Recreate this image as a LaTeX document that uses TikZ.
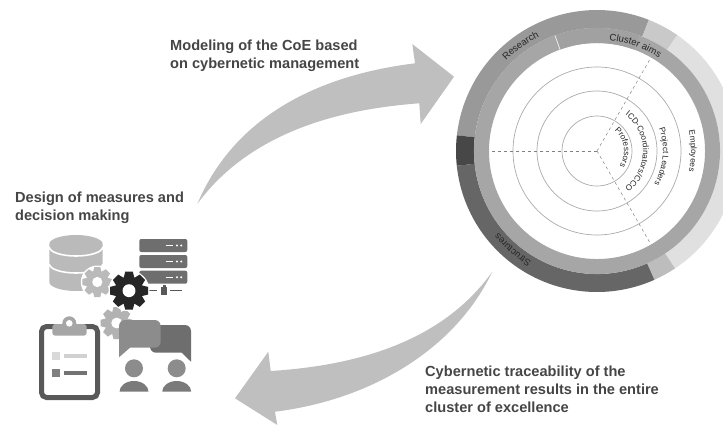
\documentclass[tikz,border=0pt]{standalone}
\usepackage{fontspec}
\setmainfont{Liberation Sans}
\usetikzlibrary{decorations.text}

\newcommand{\ringfont}{\fontsize{8.2}{10}\selectfont\color{black!85}}
\newcommand{\rimfont}{\fontsize{9.6}{11}\selectfont\color{black!85}}
\newcommand{\ringpart}[5]{\fill[#5] (#1:#3) arc (#1:#2:#3) -- (#2:#4) arc (#2:#1:#4) -- cycle;}
\newcommand{\gearicon}[4]{
	\fill[white] (#1,-#2) circle ({#3+1.5});
	\foreach \a in {0,45,...,315}
		\fill[#4, shift={(#1,-#2)}, rotate=\a] ({-.3*#3},{.6*#3}) -- ({-.2*#3},#3) -- ({.2*#3},#3) -- ({.3*#3},{.6*#3}) -- cycle;
	\fill[#4] (#1,-#2) circle ({.74*#3});
	\fill[white] (#1,-#2) circle ({.34*#3});
}

\definecolor{arrowgrey}{gray}{.75}
\definecolor{headtext}{gray}{.27}

\begin{document}
\begin{tikzpicture}[x=1pt, y=1pt,
		headlabel/.style = {anchor=north west, align=left, inner sep=0pt, text=headtext,
	font=\fontsize{14.6}{18}\selectfont\bfseries},
		ringlabel/.style = {decorate, decoration={text along path, text align=center}},
		guide/.style = {draw=black!33, line width=.7pt},
		spoke/.style = {draw=black!50, dashed, line width=.5pt}]
	\useasboundingbox (0,0) rectangle (723,-426);
	\clip (0,0) rectangle (723,-426);

	% arrows
	\fill[arrowgrey] (197.3,-204) .. controls (235,-115) and (320,-75) .. (415,-63.3)
		-- (412.3,-44) -- (454,-76.7) -- (420.7,-124) -- (419.3,-103.3)
		.. controls (356,-108) and (255,-125) .. (197.3,-204) -- cycle;
	\fill[arrowgrey] (492.3,-271.7) .. controls (445,-338) and (365,-365) .. (270.7,-371)
		-- (268.3,-351.7) -- (235,-398.3) -- (277.3,-425) -- (275,-411.7)
		.. controls (370,-400) and (455,-350) .. (492.3,-271.7) -- cycle;

	% headings
	\node[headlabel] (modeling) at (170,-39.5) {Modeling of the CoE based \\ on cybernetic management};
	\node[headlabel] (design) at (15,-191.5) {Design of measures and \\ decision making};
	\node[headlabel] (traceability) at (425,-365.5) {Cybernetic traceability of the \\ measurement results in the entire \\ cluster of excellence};

	% wheel
	\coordinate (hub) at (597,-151);
	\begin{scope}[shift={(hub)}]
		\ringpart{173.6}{68.4}{123}{141}{black!40}
		\ringpart{68.4}{55.3}{123}{141}{black!21}
		\ringpart{55.3}{-56.4}{123}{141}{black!12}
		\ringpart{-56.4}{-66}{123}{141}{black!26}
		\ringpart{-66}{-174}{123}{141}{black!60}
		\ringpart{-174}{-186.4}{123}{141}{black!72}
		\ringpart{110}{-250}{108}{123}{black!35}
		\ringpart{110}{70}{108}{123}{black!37}
		\draw[white, line width=.6pt] (110:108) -- (110:123);
		\foreach \r in {35,60,84}
			\draw[guide] (0,0) circle (\r);
		\foreach \a in {180,60,-60}
			\draw[spoke] (0,0) -- (\a:108);
		% curved labels
		\path[ringlabel, decoration={text={|\rimfont|Research}}] (170:128) arc (170:82:128);
		\path[ringlabel, decoration={text={|\rimfont|Cluster aims}}] (110:111.5) arc (110:30:111.5);
		\path[ringlabel, decoration={text={|\rimfont|Structures}}] (-85:128) arc (-85:-176:128);
		\path[ringlabel, decoration={text={|\ringfont|Employees}}] (40:94) arc (40:-40:94);
		\path[ringlabel, decoration={text={|\ringfont|Project Leaders}}] (55:66) arc (55:-65:66);
		\path[ringlabel, decoration={text={|\ringfont|ICD-Coordinators/CCO}}] (96:46) arc (96:-97:46);
		\path[ringlabel, decoration={text={|\ringfont|Professors}}] (95:27) arc (95:-79:27);
	\end{scope}

	% database
	\fill[black!27] (49.3,-244) -- (49.3,-282) arc (180:360:26.7 and 9) -- (102.7,-244) arc (0:180:26.7 and 9) -- cycle;
	\draw[white, line width=1.6pt] (49.3,-247) arc (180:360:26.7 and 9);
	\draw[white, line width=1.6pt] (49.3,-264) arc (180:360:26.7 and 9);
	\gearicon{97.3}{282}{15}{black!27}

	% server
	\foreach \y in {239,255,270.7} {
		\fill[black!57, rounded corners=2pt] (139.3,-\y) rectangle (187.3,{-\y-13});
		\draw[white, line width=.8pt] (165.5,{-\y-6.5}) -- (173,{-\y-6.5});
		\fill[white] (177,{-\y-6.5}) circle (1.1);
		\fill[white] (181.3,{-\y-6.5}) circle (1.1);
	}
	\draw[black!65, line width=1.2pt] (148,-290.7) -- (157,-290.7);
	\draw[black!65, line width=1.2pt] (170,-290.7) -- (181.7,-290.7);
	\fill[black!65] (161,-295) rectangle (167,-287);
	\fill[black!65] (162.5,-287) rectangle (165.5,-284.5);
	\gearicon{116.7}{323}{16}{black!30}
	\gearicon{129}{290.7}{19}{black!85}

	% clipboard
	\draw[black!65, fill=white, line width=5pt, rounded corners=5pt] (41.5,-326.5) rectangle (97.5,-397.5);
	\fill[black!35] (69.3,-323.3) circle (7);
	\fill[black!35, rounded corners=3pt] (52.3,-324) rectangle (86.7,-335.7);
	\fill[white] (69.3,-323.3) circle (3.3);
	\fill[black!15] (52.3,-352.3) rectangle (60,-360);
	\fill[black!18] (64,-354.3) rectangle (86.7,-358.3);
	\fill[black!50] (52.3,-369.3) rectangle (60,-376.7);
	\fill[black!55] (64,-371.3) rectangle (86.7,-375.3);

	% bubbles and people
	\fill[black!57] (191,-361.7) [rounded corners=6pt] -- (191,-325) -- (150,-325) -- (150,-352.7) [sharp corners] -- (181.7,-352.7) -- cycle;
	\fill[black!45] (119,-357.3) [rounded corners=6pt] -- (119,-320) -- (160.7,-320) -- (160.7,-347.7) [sharp corners] -- (130,-347.7) -- cycle;
	\foreach \x in {134,176.7} {
		\fill[black!45] (\x,-368.3) circle (9);
		\fill[black!52] (\x-14.5,-391.7) arc (180:0:14.5 and 10.7) -- cycle;
	}
\end{tikzpicture}
\end{document}
